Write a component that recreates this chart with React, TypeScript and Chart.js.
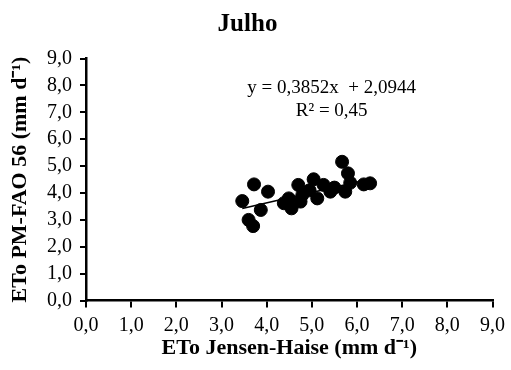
import React, { useEffect, useRef } from "react";
import { Chart, registerables } from "chart.js";

Chart.register(...registerables);

const pmX: number[] = [5.67, 5.80, 3.72, 4.03, 3.46, 5.04, 4.70, 5.26, 5.85, 6.15, 6.29, 5.41, 5.74, 5.12, 4.79, 4.49, 4.38, 4.55, 4.75, 3.87, 3.60, 3.70, 5.50, 4.95];
const pmY: number[] = [5.16, 4.73, 4.32, 4.05, 3.70, 4.51, 4.30, 4.30, 4.38, 4.32, 4.36, 4.05, 4.05, 3.80, 3.93, 3.80, 3.62, 3.43, 3.68, 3.37, 3.00, 2.77, 4.20, 4.10];
const slope = 0.3852;
const intercept = 2.0944;
const equationText = "y = 0,3852x  + 2,0944";
const r2Text = "R² = 0,45";
const titleText = "Julho";
const xTitle = "ETo Jensen-Haise (mm d⁻¹)";
const yTitle = "ETo PM-FAO 56 (mm d⁻¹)";
const axisTicks: number[] = [0, 1, 2, 3, 4, 5, 6, 7, 8, 9];

const fmt = (v: number) => v.toFixed(1).replace(".", ",");

export default function App() {
  const ref = useRef<HTMLCanvasElement | null>(null);
  useEffect(() => {
    if (!ref.current) return;
    const xmin = Math.min(...pmX);
    const xmax = Math.max(...pmX);
    const annot = {
      id: "annot",
      afterDatasetsDraw(chart: any) {
        const { ctx, scales } = chart;
        ctx.save();
        ctx.fillStyle = "#000";
        ctx.font = "19px 'Liberation Serif', serif";
        ctx.textAlign = "center";
        ctx.textBaseline = "middle";
        const cx = scales.x.getPixelForValue(5.44);
        ctx.fillText(equationText, cx, scales.y.getPixelForValue(7.9));
        ctx.fillText(r2Text, cx, scales.y.getPixelForValue(7.06));
        ctx.restore();
      },
    };
    const chart = new Chart(ref.current, {
      type: "scatter",
      data: {
        datasets: [
          {
            label: "dados",
            data: pmX.map((x, i) => ({ x, y: pmY[i] })),
            backgroundColor: "#000",
            borderColor: "#000",
            pointRadius: 6.5,
            pointHoverRadius: 6.5,
            order: 2,
          },
          {
            label: "tendência",
            type: "line",
            data: [
              { x: xmin, y: slope * xmin + intercept },
              { x: xmax, y: slope * xmax + intercept },
            ],
            borderColor: "#000",
            borderWidth: 1.5,
            pointRadius: 0,
            fill: false,
            order: 1,
          } as any,
        ],
      },
      options: {
        responsive: false,
        animation: false,
        layout: { padding: { top: 0, left: 0, bottom: 0, right: 16 } },
        plugins: {
          legend: { display: false },
          tooltip: { enabled: false },
          title: {
            display: true,
            text: titleText,
            color: "#000",
            font: { family: "'Liberation Serif', serif", size: 25, weight: "bold" },
            padding: { top: 10, bottom: 18.5 },
          },
        },
        scales: {
          x: {
            type: "linear",
            min: 0,
            max: 9,
            afterBuildTicks: (s: any) => {
              s.ticks = axisTicks.map((v) => ({ value: v }));
            },
            afterFit: (s: any) => {
              s.height = 69.4;
            },
            ticks: {
              callback: (v: any) => fmt(Number(v)),
              color: "#000",
              font: { family: "'Liberation Serif', serif", size: 20 },
              padding: 6,
              maxRotation: 0,
              autoSkip: false,
            },
            grid: { drawOnChartArea: false, drawTicks: true, tickLength: 7, color: "#000", lineWidth: 2 },
            border: { display: true, color: "#000", width: 2.5 },
            title: {
              display: true,
              text: xTitle,
              color: "#000",
              font: { family: "'Liberation Serif', serif", size: 22, weight: "bold" },
              padding: { top: 0, bottom: 8.8 },
            },
          },
          y: {
            type: "linear",
            min: 0,
            max: 9,
            afterBuildTicks: (s: any) => {
              s.ticks = axisTicks.map((v) => ({ value: v }));
            },
            afterFit: (s: any) => {
              s.width = 86;
            },
            ticks: {
              callback: (v: any) => fmt(Number(v)),
              color: "#000",
              font: { family: "'Liberation Serif', serif", size: 20 },
              padding: 8,
              autoSkip: false,
            },
            grid: { drawOnChartArea: false, drawTicks: true, tickLength: 6, color: "#000", lineWidth: 2 },
            border: { display: true, color: "#000", width: 2.5 },
            title: {
              display: true,
              text: yTitle,
              color: "#000",
              font: { family: "'Liberation Serif', serif", size: 22, weight: "bold" },
              padding: { top: 6.8, bottom: 0 },
            },
          },
        },
      },
      plugins: [annot],
    });
    return () => chart.destroy();
  }, []);
  return (
    <div style={{ position: "absolute", left: 0, top: 0, width: 511, height: 370, background: "#fff" }}>
      <canvas ref={ref} width={511} height={370} />
    </div>
  );
}
